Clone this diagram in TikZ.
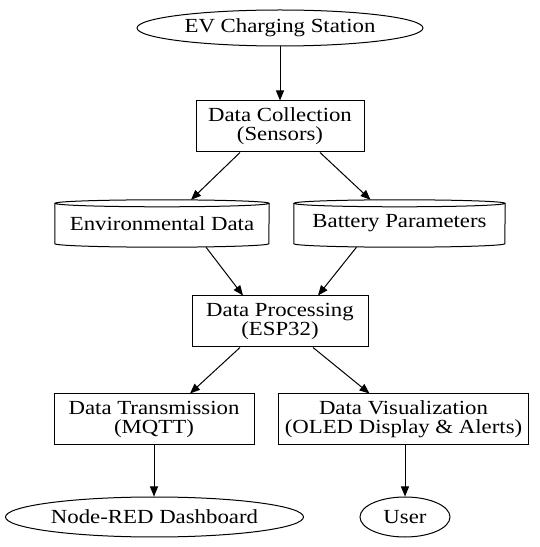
\documentclass[tikz,border=0pt]{standalone}
\usepackage{fontspec}
\setmainfont[FakeStretch=1.14]{Liberation Serif}
\usetikzlibrary{arrows.meta,shapes.geometric}
\begin{document}
\begin{tikzpicture}[x=1pt,y=1pt,
  every node/.style={font=\fontsize{20}{19}\selectfont, align=center, inner sep=0pt},
  box/.style={draw, line width=1pt, rectangle},
  oval/.style={draw, line width=1pt, ellipse},
  cylnode/.style={rectangle},
  edge/.style={line width=1pt, -{Triangle[length=10pt,width=8pt]}},
  cylline/.style={line width=1pt}]
\useasboundingbox (0,0) rectangle (540,547);
\node[oval, minimum width=286, minimum height=36] (ev) at (280,519) {EV Charging Station};
\node[box, minimum width=168, minimum height=51] (dc) at (280,420.5) {Data Collection\\(Sensors)};
\node[cylnode, minimum width=214, minimum height=47] (env) at (162,323.5) {Environmental Data};
\node[cylnode, minimum width=211, minimum height=47] (bat) at (399.5,323.5) {Battery Parameters};
\node[box, minimum width=176, minimum height=51] (dp) at (280,225.5) {Data Processing\\(ESP32)};
\node[box, minimum width=200, minimum height=51] (dt) at (154,127.5) {Data Transmission\\(MQTT)};
\node[box, minimum width=250, minimum height=51] (dv) at (403.5,127.5) {Data Visualization\\(OLED Display \& Alerts)};
\node[oval, minimum width=298, minimum height=40] (nr) at (154.5,30) {Node-RED Dashboard};
\node[oval, minimum width=90, minimum height=40] (user) at (405,30) {User};
% cylinders
\draw[cylline] ([yshift=-3.5pt]env.north) ellipse [x radius=107pt, y radius=3.5pt];
\draw[cylline] ([yshift=-3.5pt]env.north west) -- ([yshift=3.5pt]env.south west) arc[start angle=180,end angle=360,x radius=107pt,y radius=3.5pt] -- ([yshift=-3.5pt]env.north east);
\draw[cylline] ([yshift=-3.5pt]bat.north) ellipse [x radius=105.5pt, y radius=3.5pt];
\draw[cylline] ([yshift=-3.5pt]bat.north west) -- ([yshift=3.5pt]bat.south west) arc[start angle=180,end angle=360,x radius=105.5pt,y radius=3.5pt] -- ([yshift=-3.5pt]bat.north east);
% edges
\draw[edge] (ev.south) -- (dc.north);
\draw[edge] ([xshift=-40pt]dc.south) -- ([xshift=29pt]env.north);
\draw[edge] ([xshift=40pt]dc.south) -- ([xshift=-29pt]bat.north);
\draw[edge] ([xshift=44pt]env.south) -- ([xshift=-37pt]dp.north);
\draw[edge] ([xshift=-43pt]bat.south) -- ([xshift=38pt]dp.north);
\draw[edge] ([xshift=-40pt]dp.south) -- ([xshift=36pt]dt.north);
\draw[edge] ([xshift=33pt]dp.south) -- ([xshift=-34pt]dv.north);
\draw[edge] (dt.south) -- (dt.south |- nr.north);
\draw[edge] (dv.south -| user.north) -- (user.north);
\end{tikzpicture}
\end{document}
